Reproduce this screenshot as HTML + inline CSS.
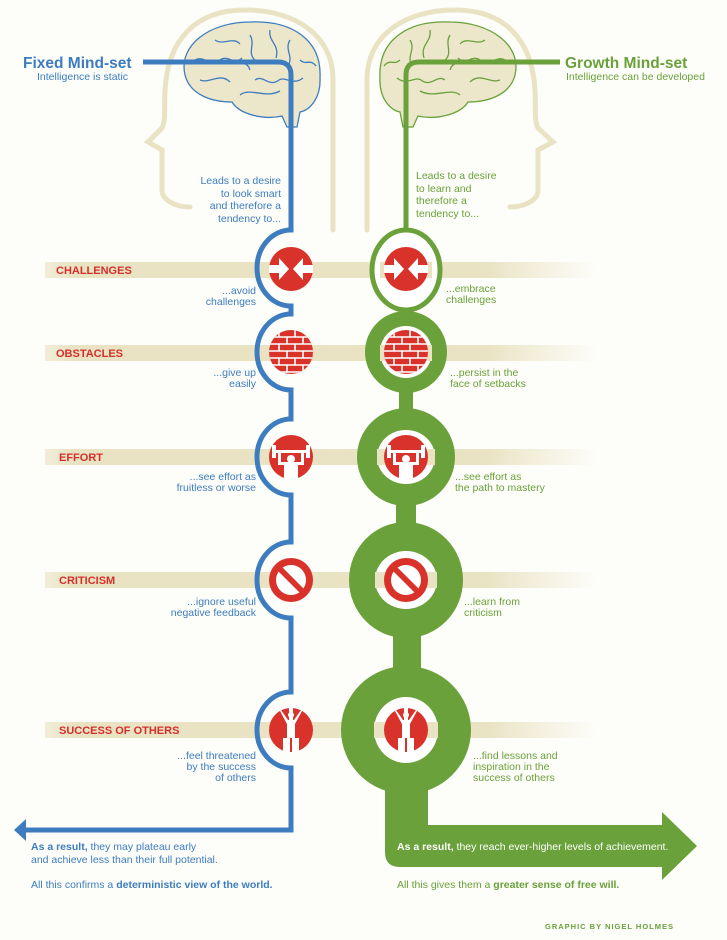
<!DOCTYPE html>
<html><head><meta charset="utf-8"><style>
html,body{margin:0;padding:0;background:#fdfdf9;}
svg{display:block;font-family:"Liberation Sans",sans-serif;}
.b{fill:#3d7dbf}.g{fill:#6aa13a}.r{fill:#d3302b;font-weight:bold;font-size:11px}
.t{font-size:10.5px}
</style></head><body>
<svg width="727" height="940" viewBox="0 0 727 940" xmlns="http://www.w3.org/2000/svg">
<defs>
<linearGradient id="bd" x1="0" x2="1"><stop offset="0" stop-color="#e9e3c3" stop-opacity="0.6"/><stop offset="0.05" stop-color="#e9e3c3"/><stop offset="0.8" stop-color="#e9e3c3"/><stop offset="1" stop-color="#e9e3c3" stop-opacity="0"/></linearGradient>
<g id="ic1"><circle r="22" fill="#d8322a"/><path d="M-22,-4 H-12 V-11 L-2,0 L-12,11 V4 H-22Z M22,-4 H12 V-11 L2,0 L12,11 V4 H22Z" fill="#fff"/></g>
<clipPath id="cc"><circle r="22"/></clipPath>
<g id="ic2"><circle r="22" fill="#d8322a"/><g clip-path="url(#cc)" stroke="#fff" stroke-width="1.6"><path d="M-22,-15H22M-22,-8H22M-22,-1H22M-22,6H22M-22,13H22M-22,20H22"/><path d="M-12,-22V-15M4,-22V-15M-4,-15V-8M12,-15V-8M-12,-8V-1M4,-8V-1M-4,-1V6M12,-1V6M-12,6V13M4,6V13M-4,13V20M12,13V20"/></g></g>
<g id="ic3"><circle r="22" fill="#d8322a"/><g fill="#fff"><rect x="-19" y="-7" width="38" height="3"/><rect x="-19" y="-12" width="4" height="13"/><rect x="15" y="-12" width="4" height="13"/><rect x="-13" y="-5" width="3" height="12"/><rect x="10" y="-5" width="3" height="12"/><rect x="-13" y="5" width="26" height="3"/><circle cy="2" r="4"/><rect x="-7" y="7" width="14" height="16"/></g></g>
<g id="ic4"><circle r="22" fill="#d8322a"/><circle r="15" fill="#fff"/><path d="M-13,-9 L9,13 L13,9 L-9,-13Z" fill="#d8322a"/></g>
<g id="ic5"><circle r="22" fill="#d8322a"/><g fill="#fff"><rect x="-2" y="-22" width="4" height="44"/><circle cy="-15" r="3"/><path d="M-10,-20 L-3,-10 L3,-10 L10,-20 L11,-19 L4,-6 L4,8 L-4,8 L-4,-6 L-11,-19Z"/><rect x="-8" y="8" width="16" height="14"/></g><rect x="-1" y="8" width="2" height="14" fill="#d8322a"/></g>
</defs>
<rect width="727" height="940" fill="#fdfdf9"/>
<g fill="none" stroke="#e9e3c3" stroke-width="5" stroke-linecap="round">
<path d="M333,230 V80 C333,35 295,10 245,10 C195,10 168,40 165,90 C164,110 166,120 162,128 L148,142 L162,150 V190 C162,200 175,207 190,207"/>
<path d="M367,230 V80 C367,35 405,10 455,10 C505,10 532,40 535,90 C536,110 534,120 538,128 L553,142 L538,150 V190 C538,200 525,207 510,207"/>
</g>
<g fill="#ece6cb" stroke="#3d7dbf" stroke-width="1.3">
<path d="M185,75 C178,45 210,22 250,22 C292,20 322,40 320,78 C321,98 310,110 300,112 L297,127 L287,127 L282,116 C265,120 240,115 232,102 C212,102 190,95 185,75Z"/>
<path d="M195,60 c10,-5 15,8 25,0 c8,-6 14,6 22,-2 M200,80 c10,4 20,-8 30,2 M215,40 c8,6 18,-4 25,4 M250,35 c6,10 -4,18 6,26 M270,30 c-2,12 10,14 6,28 M290,40 c-6,10 4,16 -2,26 M240,95 c10,-8 25,4 40,-4 M255,80 c8,-6 14,8 24,0 c6,-4 14,6 24,-2 M300,60 c6,6 10,-2 16,6 M230,60 c8,8 16,-2 20,10" fill="none"/>
</g>
<g fill="#ece6cb" stroke="#6aa13a" stroke-width="1.3">
<path d="M515,75 C522,45 490,22 450,22 C408,20 378,40 380,78 C379,98 390,110 400,112 L403,127 L413,127 L418,116 C435,120 460,115 468,102 C488,102 510,95 515,75Z"/>
<path d="M505,60 c-10,-5 -15,8 -25,0 c-8,-6 -14,6 -22,-2 M500,80 c-10,4 -20,-8 -30,2 M485,40 c-8,6 -18,-4 -25,4 M450,35 c-6,10 4,18 -6,26 M430,30 c2,12 -10,14 -6,28 M410,40 c6,10 -4,16 2,26 M460,95 c-10,-8 -25,4 -40,-4 M445,80 c-8,-6 -14,8 -24,0 c-6,-4 -14,6 -24,-2 M400,60 c-6,6 -10,-2 -16,6 M470,60 c-8,8 -16,-2 -20,10" fill="none"/>
</g>
<g fill="url(#bd)"><rect x="45" y="262" width="550" height="16"/><rect x="45" y="345" width="550" height="16"/><rect x="45" y="449" width="550" height="16"/><rect x="45" y="572" width="550" height="16"/><rect x="45" y="722" width="550" height="16"/></g>
<path d="M143,62 H278 Q291,62 291,75 V230 A34,38 0 0 0 291,306 V314 A34,38 0 0 0 291,390 V419 A34,38 0 0 0 291,495 V542 A34,38 0 0 0 291,618 V692 A34,38 0 0 0 291,768 V830 H24" fill="none" stroke="#3d7dbf" stroke-width="5"/>
<path d="M14,830 L26,819 L26,841Z" fill="#3d7dbf"/>
<path d="M560,62 H419 Q406,62 406,75 V230" fill="none" stroke="#6aa13a" stroke-width="5"/>
<g fill="#6aa13a">
<rect x="399" y="380" width="14" height="40"/><rect x="396" y="490" width="20" height="40"/><rect x="393" y="620" width="28" height="60"/>
<path d="M385,770 H428 V825 H662 V812 L697,846 L662,880 V867 H400 Q385,867 385,852Z"/>
<ellipse cx="406" cy="352" rx="41" ry="41"/><ellipse cx="406" cy="457" rx="49" ry="49"/><ellipse cx="406" cy="580" rx="57" ry="58"/><ellipse cx="406" cy="730" rx="65" ry="64"/>
</g>
<ellipse cx="406" cy="270" rx="34" ry="40" fill="#fff" stroke="#6aa13a" stroke-width="5"/>
<g fill="#fff"><circle cx="406" cy="352" r="26"/><ellipse cx="406" cy="457" rx="29" ry="27"/><ellipse cx="406" cy="580" rx="31" ry="29"/><ellipse cx="406" cy="730" rx="32" ry="33"/></g>
<rect x="380" y="262" width="52" height="16" fill="#e9e3c3"/><rect x="380" y="345" width="52" height="16" fill="#e9e3c3"/><rect x="377" y="449" width="58" height="16" fill="#e9e3c3"/><rect x="375" y="572" width="62" height="16" fill="#e9e3c3"/><rect x="374" y="722" width="64" height="16" fill="#e9e3c3"/>
<use href="#ic1" x="291" y="269"/><use href="#ic1" x="406" y="269"/>
<use href="#ic2" x="291" y="352"/><use href="#ic2" x="406" y="352"/>
<use href="#ic3" x="291" y="457"/><use href="#ic3" x="406" y="457"/>
<use href="#ic4" x="291" y="580"/><use href="#ic4" x="406" y="580"/>
<use href="#ic5" x="291" y="730"/><use href="#ic5" x="406" y="730"/>
<text x="23" y="68" class="b" font-size="15.5" font-weight="bold">Fixed Mind-set</text>
<text x="37" y="80" class="b t">Intelligence is static</text>
<text x="565" y="68" class="g" font-size="15.5" font-weight="bold">Growth Mind-set</text>
<text x="566" y="80" class="g t">Intelligence can be developed</text>
<g class="b t" text-anchor="end"><text x="281" y="184">Leads to a desire</text><text x="281" y="197">to look smart</text><text x="281" y="209">and therefore a</text><text x="281" y="222">tendency to...</text></g>
<g class="g t"><text x="416" y="179">Leads to a desire</text><text x="416" y="192">to learn and</text><text x="416" y="204">therefore a</text><text x="416" y="217">tendency to...</text></g>
<g class="r"><text x="56" y="274">CHALLENGES</text><text x="56" y="357">OBSTACLES</text><text x="59" y="461">EFFORT</text><text x="59" y="584">CRITICISM</text><text x="59" y="734">SUCCESS OF OTHERS</text></g>
<g class="b t" text-anchor="end" font-size="10">
<text x="256" y="294">...avoid</text><text x="256" y="305">challenges</text>
<text x="256" y="376">...give up</text><text x="256" y="387">easily</text>
<text x="256" y="480">...see effort as</text><text x="256" y="491">fruitless or worse</text>
<text x="256" y="605">...ignore useful</text><text x="256" y="616">negative feedback</text>
<text x="256" y="759">...feel threatened</text><text x="256" y="770">by the success</text><text x="256" y="781">of others</text>
</g>
<g class="g t" font-size="10">
<text x="446" y="292">...embrace</text><text x="446" y="303">challenges</text>
<text x="450" y="376">...persist in the</text><text x="450" y="387">face of setbacks</text>
<text x="455" y="480">...see effort as</text><text x="455" y="491">the path to mastery</text>
<text x="464" y="605">...learn from</text><text x="464" y="616">criticism</text>
<text x="473" y="759">...find lessons and</text><text x="473" y="770">inspiration in the</text><text x="473" y="781">success of others</text>
</g>
<g class="b" font-size="10.5"><text x="31" y="850"><tspan font-weight="bold">As a result,</tspan>  they may plateau early</text><text x="31" y="863">and achieve less than their full potential.</text><text x="31" y="888">All this confirms a <tspan font-weight="bold">deterministic view of the world.</tspan></text></g>
<text x="397" y="850" fill="#fff" font-size="10.5"><tspan font-weight="bold">As a result,</tspan> they reach ever-higher levels of achievement.</text>
<text x="397" y="888" class="g" font-size="10.5">All this gives them a <tspan font-weight="bold">greater sense of free will.</tspan></text>
<text x="545" y="929" class="g" font-size="7.5" font-weight="bold" letter-spacing="1">GRAPHIC BY NIGEL HOLMES</text>
</svg>
</body></html>
